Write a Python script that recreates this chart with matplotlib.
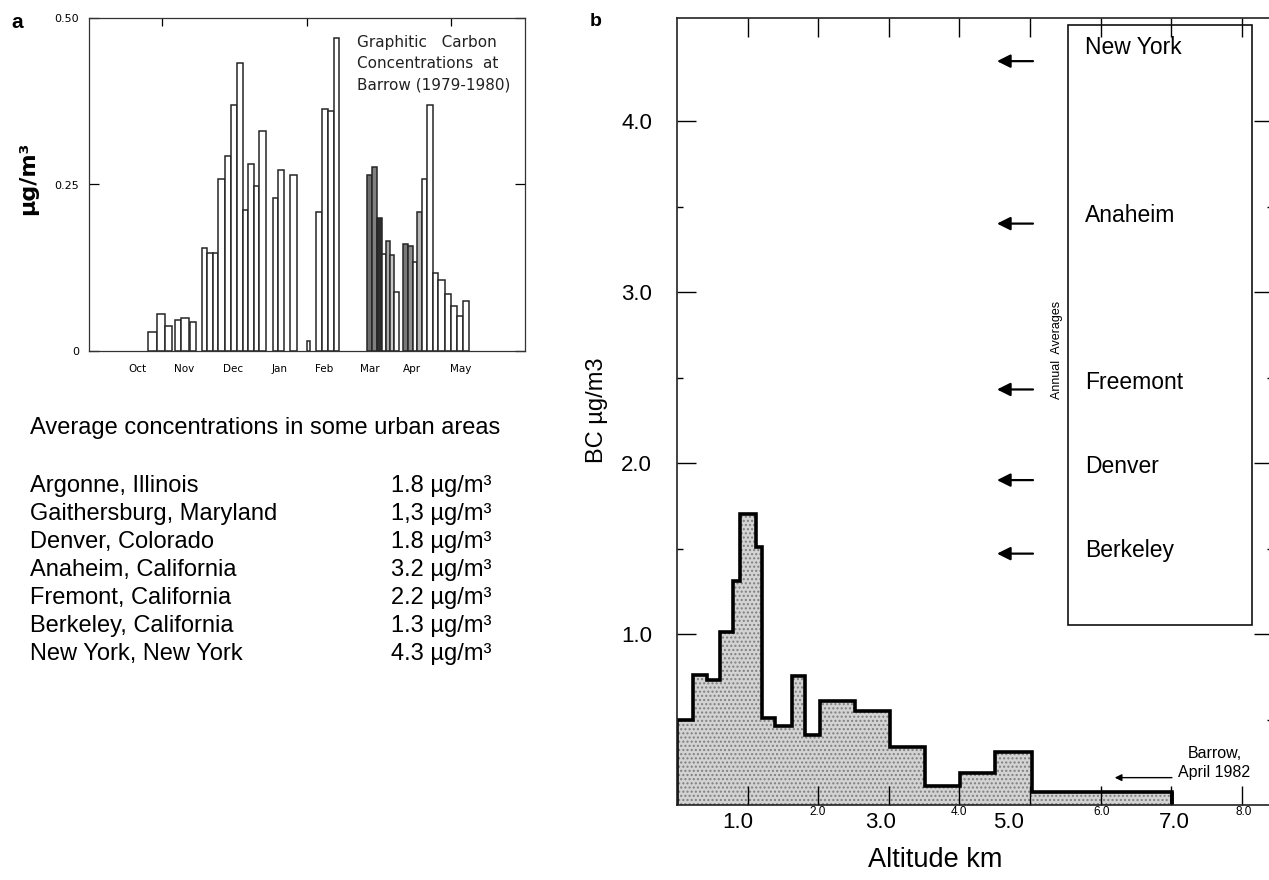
import matplotlib
matplotlib.use('Agg')
import matplotlib.pyplot as plt
from matplotlib import font_manager
from matplotlib.patches import Rectangle
from matplotlib.ticker import FixedLocator, NullFormatter

# ---------------- data: panel a (Barrow graphitic carbon 1979-1980) ----------------
month_labels = ['Oct', 'Nov', 'Dec', 'Jan', 'Feb', 'Mar', 'Apr', 'May']
month_days = [15, 46, 78, 109, 139, 169, 197, 229]          # days after 1 Oct
bar_start = [22, 28, 33, 40, 44, 50, 58, 61, 65, 68, 73, 77, 81, 85, 88.5, 92, 95.5,
             105, 108, 116, 127, 133, 137, 141, 145,
             167, 170.5, 174, 177, 180, 182.5, 185, 191, 194, 197.5, 200, 203.5, 207,
             211, 214, 219, 223, 227, 231]
bar_end = [28, 33, 38, 44, 49, 54, 61, 65, 68, 73, 77, 81, 85, 88.5, 92, 95.5, 100,
           108, 112, 121, 129, 137, 141, 145, 148.5,
           170.5, 174, 177, 180, 182.5, 185, 188, 194, 197.5, 200, 203.5, 207, 211,
           214, 219, 223, 227, 231, 235]
bar_value = [0.028, 0.056, 0.037, 0.046, 0.049, 0.043, 0.155, 0.147, 0.147, 0.259,
             0.293, 0.370, 0.432, 0.211, 0.281, 0.247, 0.330,
             0.230, 0.272, 0.265, 0.015, 0.208, 0.363, 0.360, 0.470,
             0.265, 0.277, 0.200, 0.146, 0.165, 0.144, 0.088, 0.160, 0.157, 0.134,
             0.208, 0.259, 0.370,
             0.117, 0.107, 0.085, 0.068, 0.053, 0.075]
a_yticks = [0, 0.25, 0.50]
a_yticklabels = ['0', '0.25', '0.50']

# ---------------- data: urban averages table ----------------
urban_sites = ['Argonne, Illinois', 'Gaithersburg, Maryland', 'Denver, Colorado',
               'Anaheim, California', 'Fremont, California', 'Berkeley, California',
               'New York, New York']
urban_values = ['1.8', '1,3', '1.8', '3.2', '2.2', '1.3', '4.3']

# ---------------- data: panel b (BC vs altitude, Barrow April 1982) ----------------
alt_edges = [0, 0.23, 0.43, 0.61, 0.79, 0.89, 1.12, 1.20, 1.39, 1.63, 1.81, 2.02,
             2.52, 3.02, 3.51, 4.01, 4.50, 5.03, 7.01]
bc_values = [0.50, 0.76, 0.73, 1.01, 1.31, 1.70, 1.51, 0.51, 0.46, 0.755, 0.41,
             0.61, 0.55, 0.34, 0.11, 0.19, 0.31, 0.075]
city_names = ['New York', 'Anaheim', 'Freemont', 'Denver', 'Berkeley']
city_levels = [4.35, 3.40, 2.43, 1.90, 1.47]
b_yticks = [1.0, 2.0, 3.0, 4.0]
b_xticks = [1, 2, 3, 4, 5, 6, 7, 8]
b_xticklabels = ['1.0', '2.0', '3.0', '4.0', '5.0', '6.0', '7.0', '8.0']
barrow_level = 0.16

# ---------------- styles ----------------
a_fills = ['white'] * 25 + ['#6e6e6e', '#808080', '#2e2e2e', 'white', '#a8a8a8',
                            '#c8c8c8', 'white', '#7a7a7a', '#8c8c8c', 'white',
                            '#b4b4b4', 'white', 'white'] + ['white'] * 6
city_label_offsets = [0.08, 0.05, 0.04, 0.08, 0.02]

names = {f.name for f in font_manager.fontManager.ttflist}
SANS = 'Liberation Sans' if 'Liberation Sans' in names else 'DejaVu Sans'
NARROW = 'Liberation Sans Narrow' if 'Liberation Sans Narrow' in names else SANS
HAND = 'DejaVu Sans'

W, H = 1269, 880
fig = plt.figure(figsize=(W / 100, H / 100), dpi=100)


def fx(px):
    return px / W


def fy(py):
    return 1 - py / H


# ================= panel a =================
a_l, a_r, a_t, a_b = 89, 525, 18, 351
axa = fig.add_axes([fx(a_l), fy(a_b), (a_r - a_l) / W, (a_b - a_t) / H])
widths = [e - s for s, e in zip(bar_start, bar_end)]
axa.bar(bar_start, bar_value, width=widths, align='edge', color=a_fills,
        edgecolor='#262626', linewidth=1.1)
day_per_px = 1 / 1.508
axa.set_xlim((a_l - 115) * day_per_px, (a_r - 115) * day_per_px)
axa.set_ylim(0, 0.5)
axa.set_xticks(month_days)
axa.set_xticklabels(month_labels, fontsize=7.5, family=HAND)
axa.tick_params(axis='x', length=0, pad=9)
axa.set_yticks(a_yticks)
axa.set_yticklabels(a_yticklabels, fontsize=8, family=HAND)
axa.tick_params(axis='y', direction='in', length=7, width=0.9, pad=7, right=True)
axa.xaxis.set_minor_locator(FixedLocator([31, 127, 223]))
axa.tick_params(axis='x', which='minor', direction='in', top=True, bottom=False,
                length=6, width=0.9)
for s in axa.spines.values():
    s.set_linewidth(0.9)
    s.set_color('#333333')
axa.text(0.615, 0.95, 'Graphitic   Carbon\nConcentrations  at\nBarrow (1979-1980)',
         transform=axa.transAxes, ha='left', va='top', fontsize=11, family=HAND,
         linespacing=1.55, color='#222222')
fig.text(fx(28), fy(178), 'μg/m³', rotation=90, ha='center', va='center',
         fontsize=16, fontweight='bold', family=HAND)
fig.text(fx(11), fy(22), 'a', ha='left', va='center', fontsize=15,
         fontweight='bold', family=SANS)

# ================= urban table =================
fig.text(fx(30), fy(428), 'Average concentrations in some urban areas',
         ha='left', va='center', fontsize=17, family=SANS)
for i, (site, val) in enumerate(zip(urban_sites, urban_values)):
    y = 486 + i * 28.0
    fig.text(fx(30), fy(y), site, ha='left', va='center', fontsize=17, family=SANS)
    fig.text(fx(391), fy(y), val + ' µg/m³', ha='left', va='center',
             fontsize=17, family=SANS)

# ================= panel b =================
b_l, b_r, b_t, b_b = 677, 1273, 18, 805
px_per_km = 70.6
px_per_unit = 171.0
axb = fig.add_axes([fx(b_l), fy(b_b), (b_r - b_l) / W, (b_b - b_t) / H])
axb.set_xlim(0, (b_r - b_l) / px_per_km)
axb.set_ylim(0, (b_b - b_t) / px_per_unit)
axb.stairs(bc_values, alt_edges, fill=True, facecolor='#d3d3d3', edgecolor='#7f7f7f',
           hatch='....', linewidth=0, zorder=1)
axb.stairs(bc_values, alt_edges, fill=False, edgecolor='black', linewidth=2.6,
           zorder=2)
axb.vlines(alt_edges[-1], 0, bc_values[-1], color='black', linewidth=2.6, zorder=2)

axb.set_yticks(b_yticks)
axb.set_yticklabels([f'{v:.1f}' for v in b_yticks], fontsize=16, family=SANS)
axb.yaxis.set_minor_locator(FixedLocator([0.5, 1.5, 2.5, 3.5]))
axb.tick_params(axis='y', which='major', direction='in', length=14, width=1.0,
                pad=18, right=True)
axb.tick_params(axis='y', which='minor', direction='in', length=4, width=1.0,
                right=True)
axb.set_xticks(b_xticks)
axb.xaxis.set_major_formatter(NullFormatter())
axb.tick_params(axis='x', which='major', direction='in', length=14, width=1.0,
                top=True)
axb.spines['right'].set_visible(False)
for k in ['left', 'top', 'bottom']:
    axb.spines[k].set_linewidth(1.2)
    axb.spines[k].set_color('#222222')

# altitude tick labels: alternating big / small as in the original
lab_x = [0.86, 1.99, 2.88, 4.00, 4.70, 6.02, 7.04, 8.02]
for i, (xv, lab) in enumerate(zip(lab_x, b_xticklabels)):
    big = i % 2 == 0
    axb.text(xv, (-17 if big else -7) / px_per_unit, lab, ha='center', va='center',
             fontsize=16 if big else 8.5, family=SANS, clip_on=False)

# annual averages box
box_x0, box_x1 = (1068 - b_l) / px_per_km, (1252 - b_l) / px_per_km
box_y0, box_y1 = 1.05, 4.56
axb.add_patch(Rectangle((box_x0, box_y0), box_x1 - box_x0, box_y1 - box_y0,
                        fill=False, edgecolor='#111111', linewidth=1.2, zorder=3))
arrow_tail = (1033 - b_l) / px_per_km
arrow_head = (997 - b_l) / px_per_km
for name, lev, off in zip(city_names, city_levels, city_label_offsets):
    axb.annotate('', xy=(arrow_head, lev), xytext=(arrow_tail, lev),
                 arrowprops=dict(arrowstyle='-|>', color='black', lw=1.6,
                                 mutation_scale=20, shrinkA=0, shrinkB=0))
    axb.text((1085 - b_l) / px_per_km, lev + off, name, ha='left', va='center',
             fontsize=16.5, family=SANS)
axb.text((1057 - b_l) / px_per_km, 2.66, 'Annual  Averages', rotation=90,
         ha='center', va='center', fontsize=9, family=NARROW)

# Barrow April 1982 arrow
axb.annotate('', xy=(6.2, barrow_level), xytext=(7.01, barrow_level),
             arrowprops=dict(arrowstyle='-|>', color='black', lw=1.0,
                             mutation_scale=10, shrinkA=0, shrinkB=0))
axb.text(7.62, barrow_level + 0.14, 'Barrow,', ha='center', va='center',
         fontsize=11.5, family=NARROW)
axb.text(7.10, barrow_level + 0.03, 'April 1982', ha='left', va='center',
         fontsize=11.5, family=NARROW)

fig.text(fx(597), fy(410), 'BC µg/m3', rotation=90, ha='center', va='center',
         fontsize=17, family=SANS)
fig.text(fx(935), fy(860), 'Altitude km', ha='center', va='center',
         fontsize=19.5, family=SANS)
fig.text(fx(590), fy(22), 'b', ha='left', va='center', fontsize=14,
         fontweight='bold', family=SANS)

fig.savefig('out.png', dpi=100)
